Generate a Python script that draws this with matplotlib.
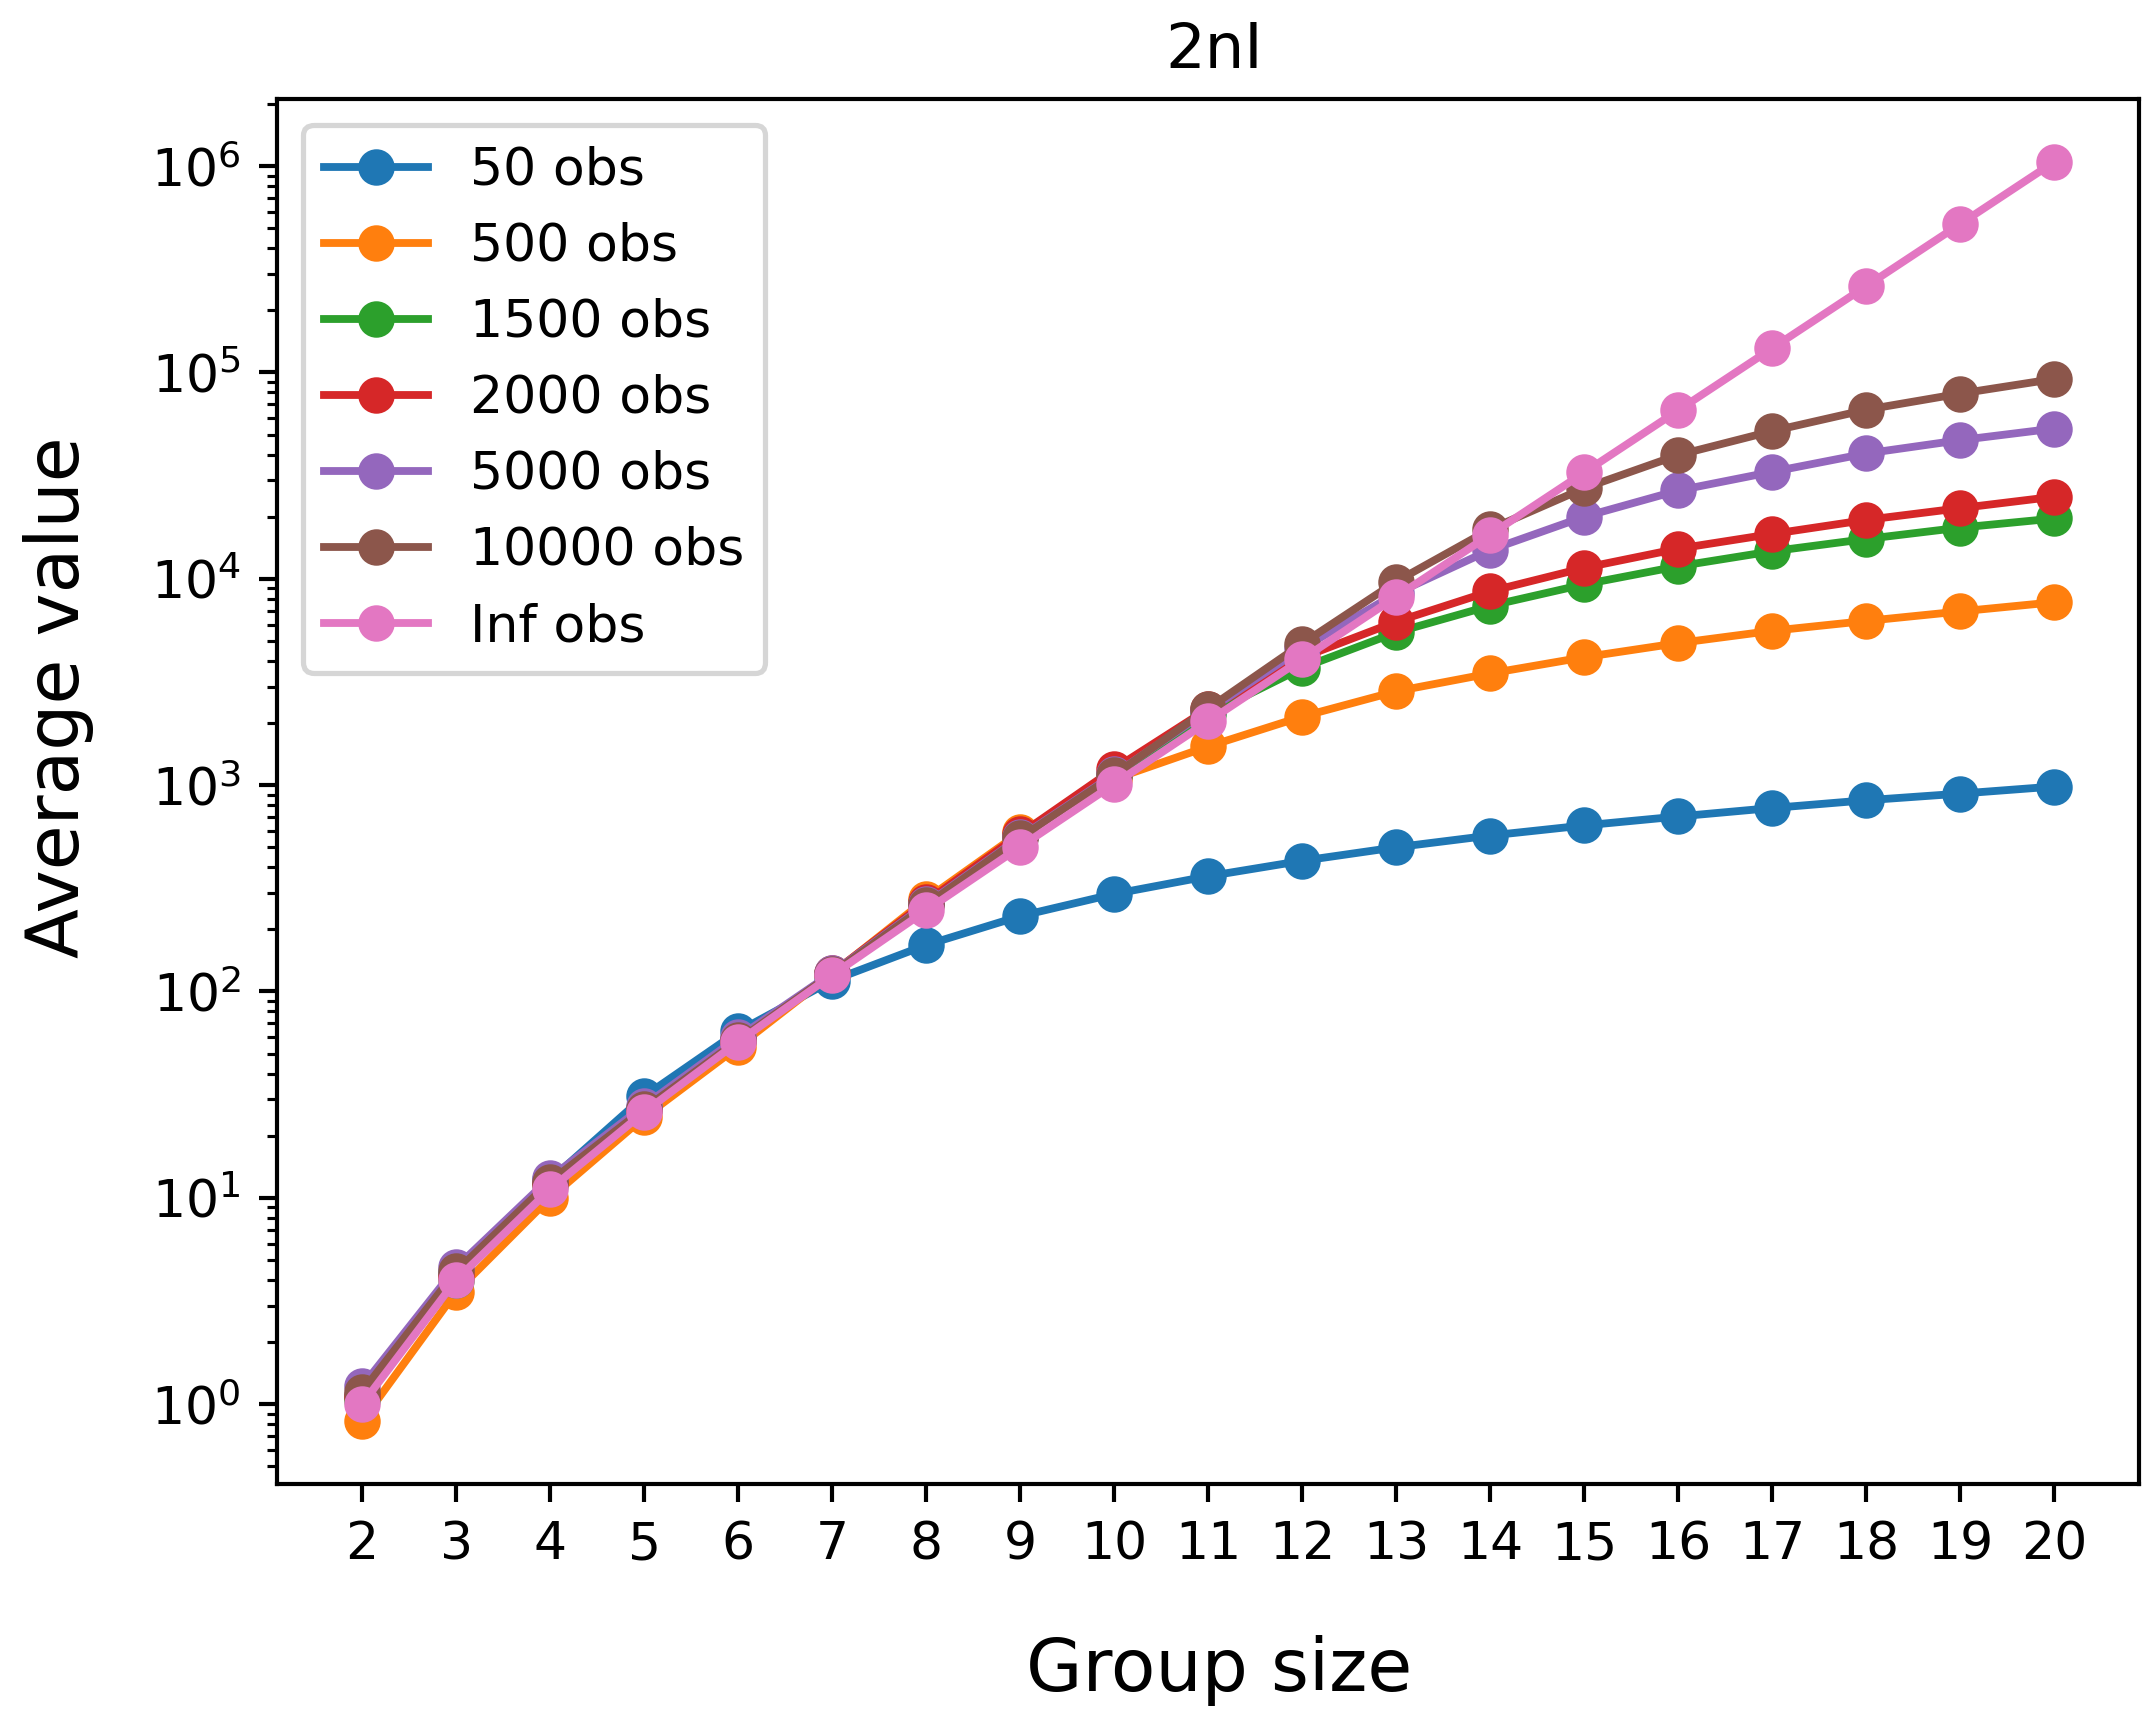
import numpy as np
import matplotlib
matplotlib.use('Agg')
import matplotlib.pyplot as plt
from matplotlib.ticker import NullFormatter

# group sizes on the x axis
group_size = list(range(2, 21))

labels = ['50 obs', '500 obs', '1500 obs', '2000 obs', '5000 obs', '10000 obs', 'Inf obs']

obs_50 = [1.1, 4.3, 12.2, 31, 64, 113, 168, 232, 297, 362,
          430, 500, 570, 638, 705, 775, 845, 910, 985]
obs_500 = [0.83, 3.5, 10.0, 24.6, 54, 122, 280, 590, 1070, 1540,
           2150, 2850, 3480, 4170, 4880, 5600, 6250, 6950, 7700]
obs_1500 = [1.05, 4.0, 11.5, 27, 58, 122, 268, 565, 1120, 2200,
            3700, 5500, 7400, 9400, 11500, 13600, 15600, 17700, 19600]
obs_2000 = [1.1, 4.2, 11.8, 27, 58, 123, 272, 580, 1200, 2350,
            4150, 6200, 8700, 11300, 14000, 16500, 19300, 22000, 25000]
obs_5000 = [1.22, 4.6, 12.5, 28, 60, 123, 265, 560, 1130, 2300,
            4600, 8500, 13800, 20000, 26800, 33000, 40500, 47000, 53500]
obs_10000 = [1.15, 4.4, 12.0, 27, 58, 122, 262, 555, 1120, 2350,
             4850, 9700, 17400, 27500, 39800, 52000, 66000, 79000, 93000]
obs_inf = [1, 4, 11, 26, 57, 120, 247, 502, 1013, 2036,
           4083, 8178, 16369, 32752, 65519, 131054, 262125, 524268, 1048555]

series = [obs_50, obs_500, obs_1500, obs_2000, obs_5000, obs_10000, obs_inf]

fig = plt.figure(figsize=(2154 / 375, 1723 / 375), dpi=375)
ax = fig.add_axes([0.1288, 0.1388, 0.8642, 0.8038])

for vals, lab in zip(series, labels):
    ax.plot(group_size, vals, marker='o', label=lab)

ax.set_yscale('log')
ax.yaxis.set_minor_formatter(NullFormatter())
ax.set_xticks(group_size)
ax.set_title('2nI', fontsize=12, x=0.503)
ax.set_xlabel('Group size', fontsize=14, labelpad=12.5, x=0.506)
ax.set_ylabel('Average value', fontsize=14, labelpad=11, y=0.568)
ax.legend(loc='upper left')

fig.savefig('out.png', dpi=375)
